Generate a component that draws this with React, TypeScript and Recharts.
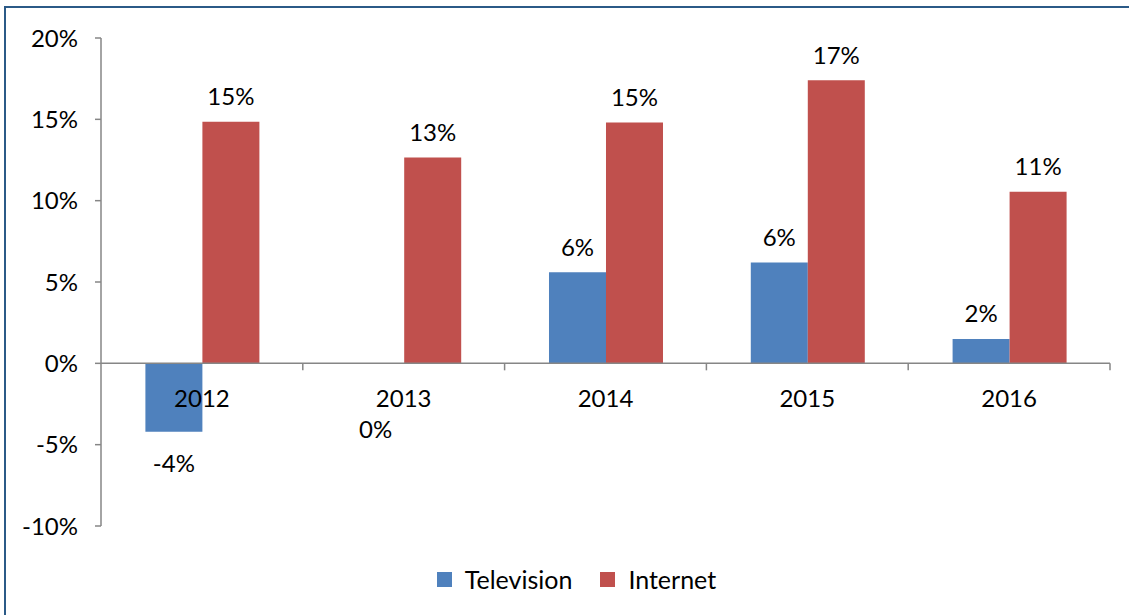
import React from 'react';
import { BarChart, Bar, XAxis, YAxis, ReferenceLine, Legend, LabelList } from 'recharts';

const years = ['2012', '2013', '2014', '2015', '2016'];
const television = [-0.042, -0.0002, 0.056, 0.062, 0.015];
const internet = [0.1485, 0.1265, 0.148, 0.174, 0.1055];
const yTicks = [-0.1, -0.05, 0, 0.05, 0.1, 0.15, 0.2];

const data = years.map((y, i) => ({ year: y, Television: television[i], Internet: internet[i] }));

const W = 1129;
const H = 615;
const MARGIN = { top: 38, right: 19, left: 0, bottom: 29 };
const Y_AXIS_W = 101;
const PLOT_H = 488;
const PLOT_W = W - MARGIN.right - Y_AXIS_W;
const BAND = PLOT_W / years.length;
const ZERO_Y = MARGIN.top + PLOT_H * (0.2 / 0.3);
const FONT = 'Lato, "Noto Sans", sans-serif';
const AXIS = '#868686';
const BLUE = '#4F81BD';
const RED = '#C0504D';

const pct = (v: number) => `${Math.round(v * 100)}%`;

const XTick = (props: any) => {
  const { x, payload } = props;
  return (
    <g>
      <line x1={x + BAND / 2} x2={x + BAND / 2} y1={ZERO_Y} y2={ZERO_Y + 7} stroke={AXIS} strokeWidth={1.5} />
      <text x={x} y={ZERO_Y + 34} textAnchor="middle" dominantBaseline="central" fontSize={24} fontFamily={FONT} fill="#000">
        {payload.value}
      </text>
    </g>
  );
};

const ValueLabel = (props: any) => {
  const { x, y, width, height, value } = props;
  const top = Math.min(y, y + height);
  const bottom = Math.max(y, y + height);
  const cx = x + width / 2;
  let cy: number;
  if (value > 0) {
    cy = top - 26;
  } else {
    cy = Math.max(bottom + 31, top + 65);
  }
  return (
    <text x={cx} y={cy} textAnchor="middle" dominantBaseline="central" fontSize={24} fontFamily={FONT} fill="#000">
      {pct(value)}
    </text>
  );
};

const LegendContent = () => (
  <div style={{ height: 30, display: 'flex', justifyContent: 'center', alignItems: 'center', fontFamily: FONT, fontSize: 25, color: '#000', paddingLeft: 24 }}>
    {[
      { name: 'Television', color: BLUE },
      { name: 'Internet', color: RED },
    ].map((it, i) => (
      <div key={it.name} style={{ display: 'flex', alignItems: 'center', marginLeft: i === 0 ? 0 : 28 }}>
        <div style={{ width: 15, height: 15, background: it.color, marginRight: 13 }} />
        <span>{it.name}</span>
      </div>
    ))}
  </div>
);

export default function App() {
  return (
    <div style={{ position: 'absolute', left: 0, top: 0, width: W, height: H, background: '#fff' }}>
      <div
        style={{
          position: 'absolute',
          left: 4,
          top: 6,
          width: W - 4,
          height: H - 6,
          borderLeft: '2px solid #2B5A87',
          borderTop: '2px solid #2B5A87',
          boxSizing: 'border-box',
        }}
      />
      <BarChart
        width={W}
        height={H}
        data={data}
        margin={MARGIN}
        barCategoryGap="22%"
        barGap={0}
        style={{ position: 'absolute', left: 0, top: 0 }}
      >
        <XAxis dataKey="year" axisLine={false} tickLine={false} height={30} tick={<XTick />} interval={0} />
        <YAxis
          width={Y_AXIS_W}
          domain={[-0.1, 0.2]}
          ticks={yTicks}
          tickFormatter={pct}
          axisLine={{ stroke: AXIS, strokeWidth: 1.5 }}
          tickLine={{ stroke: AXIS, strokeWidth: 1.5 }}
          tickSize={6}
          tickMargin={17}
          tick={{ fontSize: 24, fontFamily: FONT, fill: '#000' }}
          allowDataOverflow
        />
        <Bar dataKey="Television" fill={BLUE} isAnimationActive={false}>
          <LabelList dataKey="Television" content={<ValueLabel />} />
        </Bar>
        <Bar dataKey="Internet" fill={RED} isAnimationActive={false}>
          <LabelList dataKey="Internet" content={<ValueLabel />} />
        </Bar>
        <ReferenceLine y={0} stroke={AXIS} strokeWidth={1.5} ifOverflow="extendDomain" />
        <Legend
          verticalAlign="bottom"
          content={<LegendContent />}
          wrapperStyle={{ top: 564, bottom: 'auto', left: 0, width: W }}
        />
      </BarChart>
    </div>
  );
}
